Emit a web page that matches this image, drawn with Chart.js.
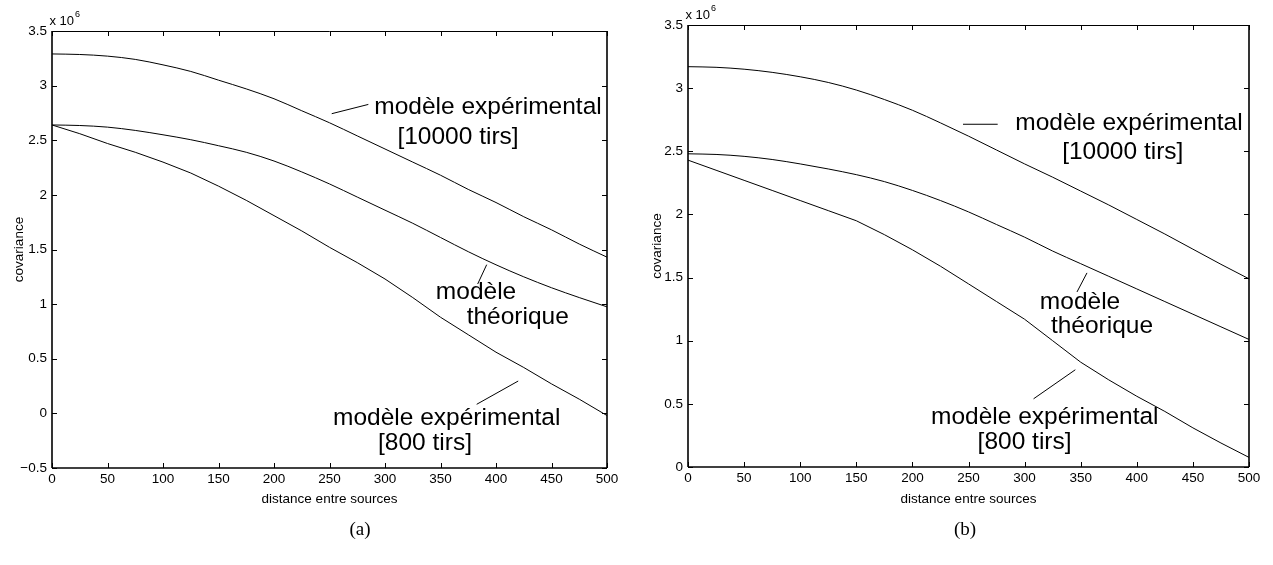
<!DOCTYPE html>
<html>
<head>
<meta charset="utf-8">
<script src="https://cdn.jsdelivr.net/npm/chart.js@4.4.1/dist/chart.umd.min.js"></script>
<style>
  html, body { margin: 0; padding: 0; background: #fff; }
  #wrap { position: relative; width: 1273px; height: 565px; }
  canvas { position: absolute; top: 0; }
</style>
</head>
<body>
<div id="wrap">
  <canvas id="chartA" width="636" height="565" style="left:0"></canvas>
  <canvas id="chartB" width="637" height="565" style="left:636px"></canvas>
</div>
<script>
// distance entre sources
const distances = [0, 25, 50, 75, 100, 125, 150, 175, 200, 225, 250, 275, 300, 325, 350, 375, 400, 425, 450, 475, 500]

// (a) covariance, en unités de 10^6
const expe10000A = [3.29, 3.285, 3.27, 3.24, 3.19, 3.13, 3.05, 2.97, 2.88, 2.77, 2.66, 2.54, 2.42, 2.30, 2.18, 2.05, 1.93, 1.80, 1.68, 1.55, 1.43]
const theoA      = [2.64, 2.635, 2.62, 2.59, 2.55, 2.505, 2.45, 2.39, 2.31, 2.21, 2.10, 1.98, 1.86, 1.74, 1.61, 1.48, 1.36, 1.25, 1.15, 1.06, 0.975]
const expe800A   = [2.64, 2.56, 2.47, 2.39, 2.30, 2.20, 2.08, 1.95, 1.81, 1.67, 1.52, 1.38, 1.23, 1.06, 0.88, 0.72, 0.56, 0.42, 0.27, 0.13, -0.02]

// (b) covariance, en unités de 10^6
const expe10000B = [3.17, 3.165, 3.15, 3.125, 3.09, 3.045, 2.985, 2.91, 2.825, 2.725, 2.62, 2.51, 2.40, 2.295, 2.185, 2.075, 1.96, 1.845, 1.725, 1.605, 1.49]
const theoB      = [2.48, 2.475, 2.46, 2.435, 2.40, 2.36, 2.315, 2.26, 2.19, 2.11, 2.02, 1.92, 1.82, 1.71, 1.61, 1.51, 1.41, 1.31, 1.21, 1.11, 1.01]
const expe800B   = [2.43, 2.35, 2.27, 2.19, 2.11, 2.03, 1.95, 1.84, 1.72, 1.59, 1.45, 1.31, 1.17, 1.00, 0.83, 0.69, 0.56, 0.44, 0.31, 0.19, 0.076]

// graduations
const xTicks  = [0, 50, 100, 150, 200, 250, 300, 350, 400, 450, 500]
const yTicksA = [-0.5, 0, 0.5, 1, 1.5, 2, 2.5, 3, 3.5]
const yTicksB = [0, 0.5, 1, 1.5, 2, 2.5, 3, 3.5]

const SANS = "'Liberation Sans', Arial, Helvetica, sans-serif"
const SERIF = "'Liberation Serif', 'Times New Roman', serif"

// étiquettes des courbes : [texte, distance, covariance] + trait de rappel
const notesA = [
  { lines: [['modèle expérimental', 392.8, 2.804], ['[10000 tirs]', 365.8, 2.528]], pointer: [252, 2.743, 285, 2.828] },
  { lines: [['modèle', 382, 1.106], ['théorique', 419.6, 0.883]], pointer: [391.6, 1.361, 383.5, 1.184] },
  { lines: [['modèle expérimental', 355.6, -0.042], ['[800 tirs]', 336, -0.27]], pointer: [382.6, 0.083, 420, 0.296] }
]
const notesB = [
  { lines: [['modèle expérimental', 393, 2.722], ['[10000 tirs]', 387.5, 2.494]], pointer: [245.1, 2.714, 276, 2.714] },
  { lines: [['modèle', 349.4, 1.306], ['théorique', 369, 1.117]], pointer: [355.6, 1.537, 346.7, 1.386] },
  { lines: [['modèle expérimental', 318, 0.394], ['[800 tirs]', 300, 0.193]], pointer: [308, 0.54, 345.2, 0.77] }
]

function fmt(v) {
  const r = Math.round(v * 10) / 10
  return r < 0 ? '\u2212' + (-r) : String(r)
}

function toPoints(arr) {
  return distances.map((d, i) => ({ x: d, y: arr[i] }))
}

// cadre, graduations intérieures, textes (style MATLAB)
const matlabDecor = {
  id: 'matlabDecor',
  afterDraw(chart, args, opts) {
    const { ctx, chartArea: a, scales: { x, y } } = chart
    ctx.save()
    ctx.strokeStyle = '#000'
    ctx.fillStyle = '#000'

    const seg = (x1, y1, x2, y2) => {
      ctx.beginPath()
      ctx.moveTo(x1, y1)
      ctx.lineTo(x2, y2)
      ctx.stroke()
    }

    // graduations vers l'intérieur sur les 4 côtés
    ctx.lineWidth = 1
    x.ticks.forEach(t => {
      const px = Math.round(x.getPixelForValue(t.value)) + 0.5
      seg(px, a.bottom, px, a.bottom - 5)
      seg(px, a.top, px, a.top + 5)
    })
    y.ticks.forEach(t => {
      const py = Math.round(y.getPixelForValue(t.value)) + 0.5
      seg(a.left, py, a.left + 5, py)
      seg(a.right, py, a.right - 5, py)
    })

    // cadre
    ctx.lineWidth = 1
    seg(a.left, a.top + 0.5, a.right, a.top + 0.5)
    ctx.lineWidth = 1.6
    seg(a.left, a.top, a.left, a.bottom)
    seg(a.right, a.top, a.right, a.bottom)
    seg(a.left, a.bottom, a.right, a.bottom)

    // étiquettes des courbes
    ctx.lineWidth = 1
    ctx.textAlign = 'center'
    ctx.textBaseline = 'middle'
    ctx.font = '24.5px ' + SANS
    opts.notes.forEach(n => {
      n.lines.forEach(([txt, d, v]) => {
        ctx.fillText(txt, x.getPixelForValue(d), y.getPixelForValue(v))
      })
      const p = n.pointer
      seg(x.getPixelForValue(p[0]), y.getPixelForValue(p[1]), x.getPixelForValue(p[2]), y.getPixelForValue(p[3]))
    })

    // facteur d'échelle x 10^6
    ctx.textAlign = 'left'
    ctx.font = '13px ' + SANS
    ctx.fillText('x 10', a.left - 2.5, a.top - 9.5)
    const w = ctx.measureText('x 10').width
    ctx.font = '9px ' + SANS
    ctx.fillText('6', a.left - 2.5 + w + 1, a.top - 16)

    // titres des axes
    ctx.textAlign = 'center'
    ctx.font = '13.5px ' + SANS
    ctx.fillText('distance entre sources', (a.left + a.right) / 2, opts.xlabelY)
    ctx.save()
    ctx.translate(opts.ylabelX, (a.top + a.bottom) / 2)
    ctx.rotate(-Math.PI / 2)
    ctx.fillText('covariance', 0, 0)
    ctx.restore()

    // légende de la sous-figure
    ctx.font = '19px ' + SERIF
    ctx.fillText(opts.caption, opts.captionX, opts.captionY)
    ctx.restore()
  }
}

function makeChart(id, series, yMin, yTicks, pad, decor) {
  const ctx = document.getElementById(id).getContext('2d')
  return new Chart(ctx, {
    type: 'line',
    data: {
      datasets: series.map((s, i) => ({
        data: toPoints(s),
        borderColor: '#000',
        borderWidth: 1,
        pointRadius: 0,
        // les deux premières courbes sont lisses, la troisième (800 tirs) est brisée
        cubicInterpolationMode: i < 2 ? 'monotone' : 'default',
        tension: 0,
        fill: false
      }))
    },
    options: {
      responsive: false,
      animation: false,
      devicePixelRatio: 1,
      layout: { padding: pad },
      plugins: {
        legend: { display: false },
        title: { display: false },
        tooltip: { enabled: false },
        matlabDecor: decor
      },
      scales: {
        x: {
          type: 'linear',
          min: 0,
          max: 500,
          afterBuildTicks: s => { s.ticks = xTicks.map(v => ({ value: v })) },
          afterFit: s => { s.height = 40 },
          grid: { display: false, drawTicks: false },
          border: { display: false },
          ticks: {
            padding: 3,
            maxRotation: 0,
            autoSkip: false,
            color: '#000',
            font: { family: SANS, size: 13.5 },
            callback: v => fmt(v)
          }
        },
        y: {
          type: 'linear',
          min: yMin,
          max: 3.5,
          afterBuildTicks: s => { s.ticks = yTicks.map(v => ({ value: v })) },
          afterFit: s => { s.width = 52 },
          grid: { display: false, drawTicks: false },
          border: { display: false },
          ticks: {
            padding: 5,
            autoSkip: false,
            color: '#000',
            font: { family: SANS, size: 13.5 },
            callback: v => fmt(v)
          }
        }
      }
    },
    plugins: [matlabDecor]
  })
}

makeChart('chartA', [expe10000A, theoA, expe800A], -0.5, yTicksA,
  { top: 31, right: 29, bottom: 57, left: 0 },
  { notes: notesA, xlabelY: 499, ylabelX: 19, caption: '(a)', captionX: 360, captionY: 530 })

makeChart('chartB', [expe10000B, theoB, expe800B], 0, yTicksB,
  { top: 25, right: 24, bottom: 58, left: 0 },
  { notes: notesB, xlabelY: 499, ylabelX: 21, caption: '(b)', captionX: 329, captionY: 530 })
</script>
</body>
</html>
